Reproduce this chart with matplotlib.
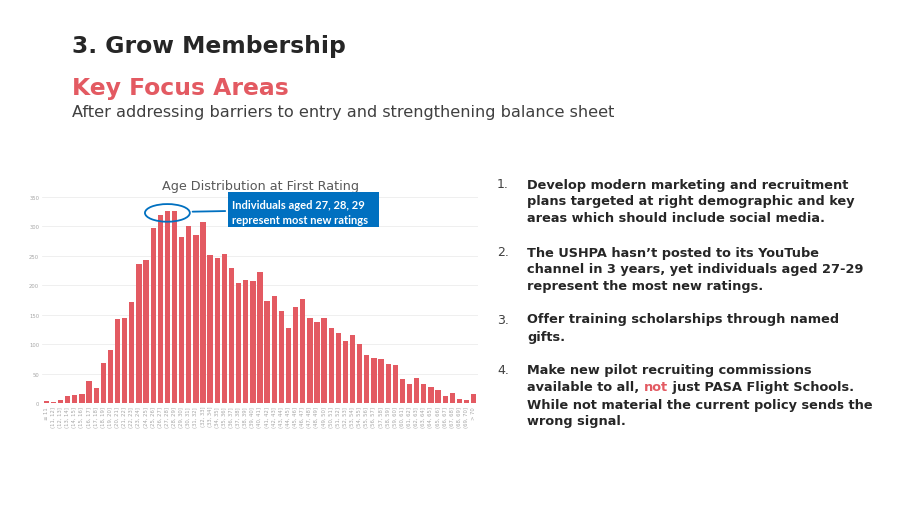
import numpy as np
import matplotlib.pyplot as plt
from matplotlib.patches import Ellipse, Rectangle

# age bins and counts of first ratings
bins = ['≤ 11'] + ['({}, {}]'.format(a, a + 1) for a in range(11, 70)] + ['> 70']
counts = [3, 2, 5, 12, 13, 16, 37, 26, 68, 90,
          142, 144, 171, 236, 243, 298, 320, 327, 326, 282,
          300, 285, 308, 252, 247, 254, 230, 204, 209, 207,
          222, 174, 182, 157, 128, 163, 177, 145, 138, 145,
          128, 119, 105, 115, 101, 82, 76, 75, 67, 64,
          41, 33, 42, 33, 28, 22, 12, 17, 7, 5, 15]
yticks = [0, 50, 100, 150, 200, 250, 300, 350]

items = [
    ['Develop modern marketing and recruitment',
     'plans targeted at right demographic and key',
     'areas which should include social media.'],
    ['The USHPA hasn\u2019t posted to its YouTube',
     'channel in 3 years, yet individuals aged 27-29',
     'represent the most new ratings.'],
    ['Offer training scholarships through named',
     'gifts.'],
    ['Make new pilot recruiting commissions',
     'available to all, |not| just PASA Flight Schools.',
     'While not material the current policy sends the',
     'wrong signal.'],
]
item_y = [[185, 202, 219], [253, 270, 287], [320, 337], [371, 388, 405, 422]]

RED = '#E35A62'
DARK = '#262626'
BLUE = '#0070C0'
W, H = 900, 506

plt.rcParams['font.family'] = ['DejaVu Sans']
fig = plt.figure(figsize=(9, 5.06), dpi=100)


def fy(py):
    return 1 - py / H


# headings
fig.text(72 / W, fy(46), '3. Grow Membership', fontsize=16.9, fontweight='bold',
         color=DARK, va='center')
fig.text(72 / W, fy(88), 'Key Focus Areas', fontsize=16.9, fontweight='bold',
         color=RED, va='center')
fig.text(72 / W, fy(113), 'After addressing barriers to entry and strengthening balance sheet',
         fontsize=11.6, color='#404040', va='center')

# chart
ax = fig.add_axes([42 / W, fy(404), 436 / W, (404 - 198) / H])
x = np.arange(len(counts))
ax.bar(x, counts, width=0.74, color=RED, zorder=2)
ax.set_xlim(-0.6, len(counts) - 0.4)
ax.set_ylim(0, 350)
ax.set_yticks(yticks)
ax.set_yticklabels([str(t) for t in yticks], fontsize=3.8, color='#A6A6A6')
ax.set_xticks(x)
ax.set_xticklabels(bins, rotation=90, fontsize=3.8, color='#A6A6A6')
ax.tick_params(length=0, pad=2)
ax.grid(axis='y', color='#EDEDED', linewidth=0.6, zorder=0)
for s in ax.spines.values():
    s.set_visible(False)
ax.set_title('Age Distribution at First Rating', fontsize=9.2, color='#595959', pad=6)

# highlight of ages 27-29
ell = Ellipse((17, 323), 6.3, 30, fill=False, edgecolor=BLUE, linewidth=1.3,
              zorder=4, clip_on=False)
ax.add_patch(ell)
ax.annotate('', xy=(17 + 3.15, 325), xytext=(228 / W, fy(212)),
            textcoords='figure fraction', xycoords='data',
            arrowprops=dict(arrowstyle='-', color=BLUE, lw=1.3))
fig.patches.append(Rectangle((228 / W, fy(228)), 151 / W, 35 / H,
                             transform=fig.transFigure, facecolor=BLUE,
                             edgecolor='none', zorder=5))
fig.text(232 / W, fy(205.5), 'Individuals aged 27, 28, 29', fontsize=8.0,
         fontweight='bold', color='white', va='center', family=['Lato', 'DejaVu Sans'],
         zorder=6)
fig.text(232 / W, fy(220.5), 'represent most new ratings', fontsize=8.0,
         fontweight='bold', color='white', va='center', family=['Lato', 'DejaVu Sans'],
         zorder=6)

# numbered list
fig.canvas.draw()
renderer = fig.canvas.get_renderer()
for i, (lines, ys) in enumerate(zip(items, item_y)):
    fig.text(497 / W, fy(ys[0]), '{}.'.format(i + 1), fontsize=9, color='#404040',
             va='center')
    for line, py in zip(lines, ys):
        if '|' not in line:
            fig.text(527 / W, fy(py), line, fontsize=9.3, fontweight='bold',
                     color=DARK, va='center')
            continue
        px = 527
        for j, part in enumerate(line.split('|')):
            t = fig.text(px / W, fy(py), part, fontsize=9.3, fontweight='bold',
                         color=RED if j == 1 else DARK, va='center')
            px += t.get_window_extent(renderer).width

fig.savefig('out.png', dpi=100)
